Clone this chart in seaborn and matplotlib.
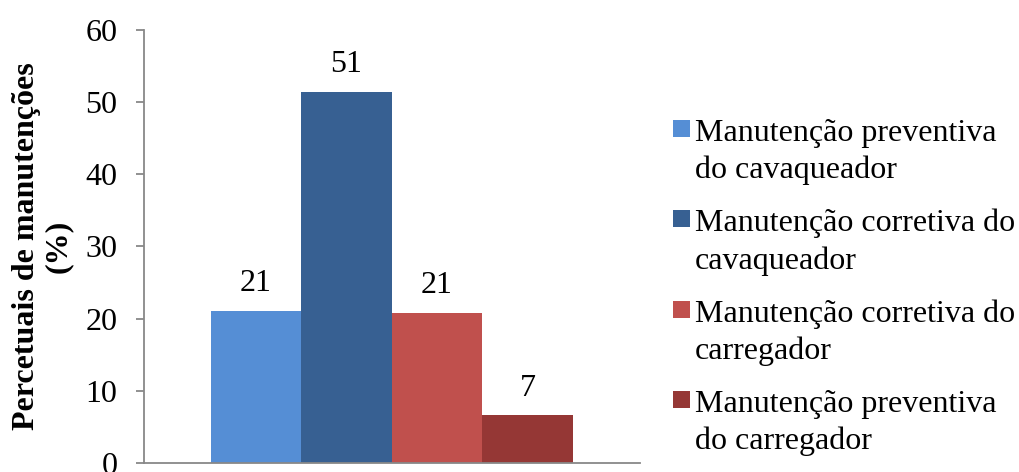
import matplotlib
matplotlib.use("Agg")
import matplotlib.pyplot as plt
from matplotlib.patches import Rectangle
from matplotlib.legend_handler import HandlerPatch
import seaborn as sns
import pandas as pd

# Share of maintenance events by type (%)
series = [
    "Manutenção preventiva\ndo cavaqueador",
    "Manutenção corretiva do\ncavaqueador",
    "Manutenção corretiva do\ncarregador",
    "Manutenção preventiva\ndo carregador",
]
values = [21.1, 51.4, 20.8, 6.6]
colors = ["#558ED5", "#376092", "#C0504D", "#953735"]
y_ticks = [0, 10, 20, 30, 40, 50, 60]

FS = 23

sns.set_theme(style="white")
plt.rcParams["font.family"] = ["Liberation Serif", "DejaVu Serif"]
plt.rcParams["text.color"] = "black"
plt.rcParams["axes.labelcolor"] = "black"

df = pd.DataFrame({"grupo": [""] * len(series), "tipo": series, "valor": values})

fig = plt.figure(figsize=(10.2, 4.72), dpi=100)
ax = fig.add_axes([0.141, 0.019, 0.486, 0.918])

sns.barplot(data=df, x="grupo", y="valor", hue="tipo", hue_order=series,
            palette=colors, width=0.73, saturation=1, legend=False, ax=ax,
            linewidth=0, errorbar=None)

for cont in ax.containers:
    ax.bar_label(cont, labels=[f"{v:.0f}" for v in cont.datavalues],
                 padding=9, fontsize=FS, color="black")

ax.set_xlim(-0.5, 0.5)
ax.set_ylim(0, 60)
ax.set_yticks(y_ticks)
ax.set_yticklabels([str(t) for t in y_ticks], fontsize=FS)
ax.set_xticks([])
ax.set_xlabel("")
ax.set_ylabel("Percetuais de manutenções\n(%)", fontsize=FS, fontweight="bold",
              labelpad=9, linespacing=1.15, color="black")

for s in ["top", "right"]:
    ax.spines[s].set_visible(False)
for s in ["left", "bottom"]:
    ax.spines[s].set_color("#888888")
    ax.spines[s].set_linewidth(1.3)
ax.tick_params(axis="y", which="major", length=6, width=1.3, color="#888888",
               labelcolor="black", left=True, direction="out", pad=13)


# Legend keys aligned with the first line of each two-line label
def top_square(legend, orig_handle, xdescent, ydescent, width, height, fontsize):
    size = 0.53 * fontsize
    return Rectangle((-xdescent + width - size, -ydescent + 0.78 * fontsize),
                     size, size)


handles = [cont.patches[0] for cont in ax.containers]
leg = fig.legend(handles, series, loc="upper left", bbox_to_anchor=(0.658, 0.748),
                 frameon=False, fontsize=FS, handlelength=0.6, handleheight=0.6,
                 handletextpad=0.15, labelspacing=0.74, borderpad=0, borderaxespad=0,
                 handler_map={Rectangle: HandlerPatch(patch_func=top_square)})
for t in leg.get_texts():
    t.set_linespacing(1.35)
    t.set_color("black")

fig.savefig("out.png", dpi=100)
